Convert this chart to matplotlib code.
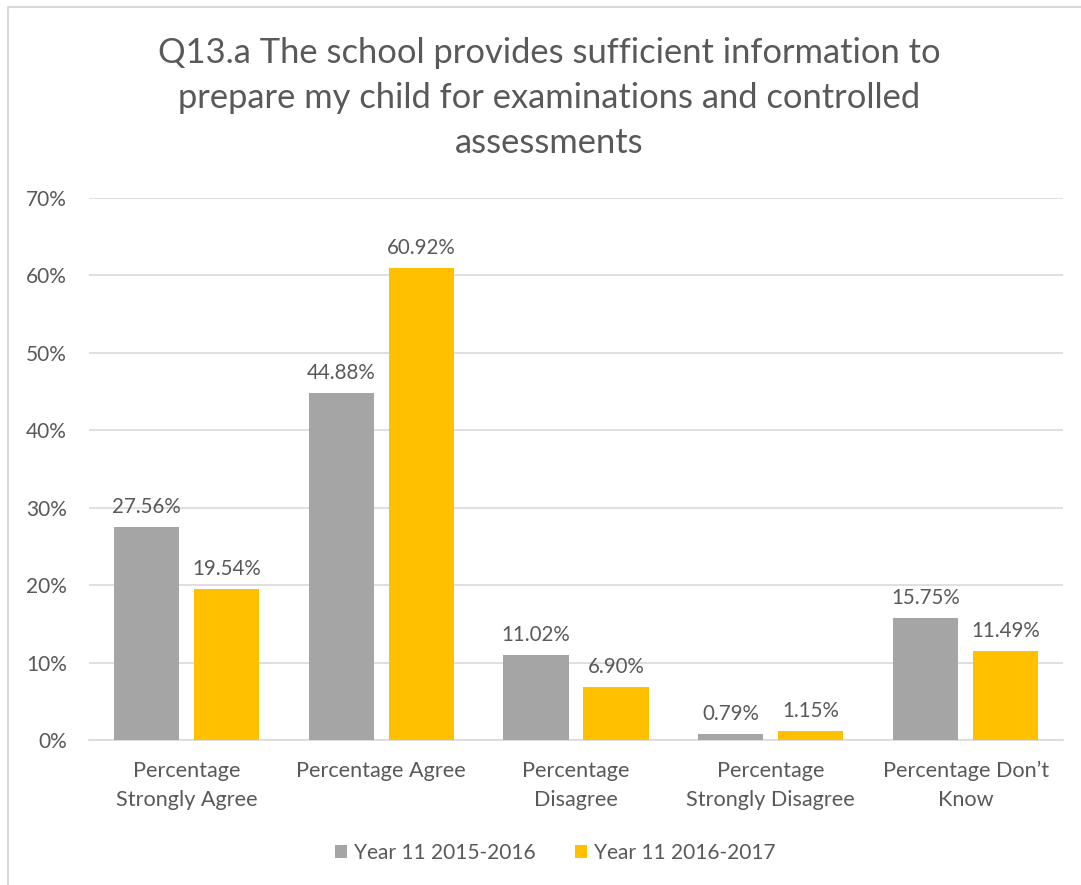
import matplotlib
matplotlib.use("Agg")
from matplotlib import pyplot as plt
from matplotlib.patches import Rectangle
from matplotlib.ticker import FuncFormatter
import numpy as np

categories = ["Percentage\nStrongly Agree", "Percentage Agree", "Percentage\nDisagree",
              "Percentage\nStrongly Disagree", "Percentage Don\u2019t\nKnow"]
year_2015 = [27.56, 44.88, 11.02, 0.79, 15.75]
year_2016 = [19.54, 60.92, 6.90, 1.15, 11.49]
series_names = ["Year 11 2015-2016", "Year 11 2016-2017"]
title = "Q13.a The school provides sufficient information to\nprepare my child for examinations and controlled\nassessments"

txt = "#595959"
grid_col = "#D9D9D9"
plt.rcParams['font.family'] = ['Lato', 'DejaVu Sans']

W, H = 1081, 885
fig = plt.figure(figsize=(W / 100, H / 100), dpi=100)
ax = fig.add_axes([89 / W, 145 / H, (1063 - 89) / W, (740 - 198) / H])

x = np.arange(len(categories))
bw = 0.335
off = 0.205
b1 = ax.bar(x - off, year_2015, bw, color="#A5A5A5", label=series_names[0], zorder=3)
b2 = ax.bar(x + off, year_2016, bw, color="#FFC000", label=series_names[1], zorder=3)

for bars in (b1, b2):
    for r in bars:
        v = r.get_height()
        ax.annotate(f"{v:.2f}%", (r.get_x() + r.get_width() / 2, v),
                    xytext=(0, 10), textcoords="offset pixels",
                    ha="center", va="bottom", fontsize=14.8, color=txt)

ax.set_xlim(-0.5, len(categories) - 0.5)
ax.set_ylim(0, 70)
ax.set_yticks(np.arange(0, 71, 10))
ax.yaxis.set_major_formatter(FuncFormatter(lambda v, p: f"{v:.0f}%"))
ax.set_xticks(x)
ax.set_xticklabels(categories, fontsize=15.6, color=txt, linespacing=1.55)
ax.tick_params(axis="y", labelsize=15, labelcolor=txt, length=0, pad=16)
ax.tick_params(axis="x", length=0, pad=15)
ax.grid(axis="y", color=grid_col, linewidth=1.2, zorder=0)
for s in ("top", "right", "left"):
    ax.spines[s].set_visible(False)
ax.spines["bottom"].set_color(grid_col)
ax.spines["bottom"].set_linewidth(1.2)

fig.text(549 / W, 1 - 98 / H, title, ha="center", va="center", fontsize=24.8,
         color=txt, linespacing=1.5)

fig.legend(handles=[b1, b2], loc="center", bbox_to_anchor=(555 / W, 1 - 853 / H),
           ncol=2, frameon=False, fontsize=15, labelcolor=txt,
           handlelength=0.6, handleheight=0.6, handletextpad=0.3, columnspacing=1.9)

fig.patches.append(Rectangle((8 / W, -0.1), 1.2, 1 - 7 / H + 0.1, transform=fig.transFigure,
                             fill=False, edgecolor="#D9D9D9", linewidth=1.5))

fig.savefig("out.png", dpi=100)
